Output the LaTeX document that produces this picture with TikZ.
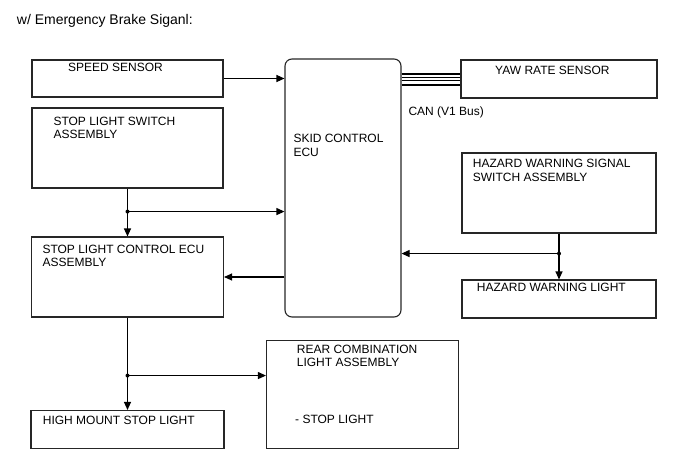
\documentclass[tikz,border=0pt]{standalone}
\usepackage{fontspec}
\setmainfont{Liberation Sans}
\usetikzlibrary{calc,arrows.meta}

\begin{document}
\begin{tikzpicture}[
  x=1pt, y=-1pt, >={Triangle[length=8pt,width=7pt]},
  box/.style={rectangle, draw=black!85, line width=1.1pt, inner sep=0pt},
  ecubox/.style={box, rounded corners=7pt},
  lbl/.style={anchor=base west, inner sep=0pt, align=left, font=\fontsize{12}{13.3}\selectfont},
  line/.style={draw=black, line width=1.1pt, ->},
  dot/.style={circle, fill=black, inner sep=0pt, minimum size=4pt}
]
  \useasboundingbox (0,0) rectangle (688,463);

  % Title
  \node[lbl, font=\fontsize{14}{16}\selectfont] (title) at (16.7, 24) {w/ Emergency Brake Siganl:};

  % Left column (two-line labels are placed by their last baseline)
  \node[box, minimum width=191pt, minimum height=37pt] (speed) at (127.5, 78.5) {};
  \node[lbl] (speedtxt) at (68, 71.7) {SPEED SENSOR};

  \node[box, minimum width=191pt, minimum height=80pt] (stopsw) at (127.5, 148) {};
  \node[lbl] (stopswtxt) at (53.3, 138.3) {STOP LIGHT SWITCH\\ASSEMBLY};

  \node[box, minimum width=192pt, minimum height=80pt] (stopctl) at (127.5, 277) {};
  \node[lbl] (stopctltxt) at (42.3, 266.8) {STOP LIGHT CONTROL ECU\\ASSEMBLY};

  \node[box, minimum width=193pt, minimum height=38pt] (highmt) at (127.5, 429.5) {};
  \node[lbl] (highmttxt) at (42.7, 424) {HIGH MOUNT STOP LIGHT};

  % Skid control ECU
  \node[ecubox, minimum width=116pt, minimum height=258pt] (skid) at (343, 188) {};
  \node[lbl] (skidtxt) at (293.3, 156) {SKID CONTROL\\ECU};

  \node[box, minimum width=192pt, minimum height=108pt] (rear) at (362.5, 394.5) {};
  \node[lbl] (reartxt) at (296.7, 366.7) {REAR COMBINATION\\LIGHT ASSEMBLY};
  \node[lbl] (reartxtb) at (295, 423.3) {- STOP LIGHT};

  % Right column
  \node[box, minimum width=196pt, minimum height=38pt] (yaw) at (559, 79) {};
  \node[lbl] (yawtxt) at (495, 74.7) {YAW RATE SENSOR};

  \node[box, minimum width=194pt, minimum height=80pt] (hazsw) at (559, 193) {};
  \node[lbl] (hazswtxt) at (472.7, 181) {HAZARD WARNING SIGNAL\\SWITCH ASSEMBLY};

  \node[box, minimum width=194pt, minimum height=38pt] (hazlt) at (559, 299) {};
  \node[lbl] (hazlttxt) at (476.7, 291) {HAZARD WARNING LIGHT};

  % CAN bus
  \foreach \dy/\lw in {-5.5/2, -1.6/1, 1.6/1, 5.5/2}
    \draw[line width=\lw pt] ($(skid.east |- yaw.west)+(0,\dy)$) -- ($(yaw.west)+(0,\dy)$);
  \node[lbl] (cantxt) at (408.3, 115.7) {CAN (V1 Bus)};

  % Connections
  \draw[line] (speed.east) -- (speed.east -| skid.west);

  \coordinate (j1) at ($(stopsw.south)+(0,23)$);
  \draw[line] (stopsw.south) -- (stopctl.north);
  \draw[line] (j1) -- (j1 -| skid.west);
  \node[dot] at (j1) {};

  \draw[line] (skid.west |- stopctl.east) -- (stopctl.east);

  \coordinate (j2) at ($(hazsw.south)+(0,20)$);
  \draw[line] (hazsw.south) -- (hazlt.north);
  \draw[line] (j2) -- (j2 -| skid.east);
  \node[dot] at (j2) {};

  \coordinate (j3) at ($(stopctl.south)+(0,58)$);
  \draw[line] (stopctl.south) -- (highmt.north);
  \draw[line] (j3) -- (j3 -| rear.west);
  \node[dot] at (j3) {};

\end{tikzpicture}
\end{document}
